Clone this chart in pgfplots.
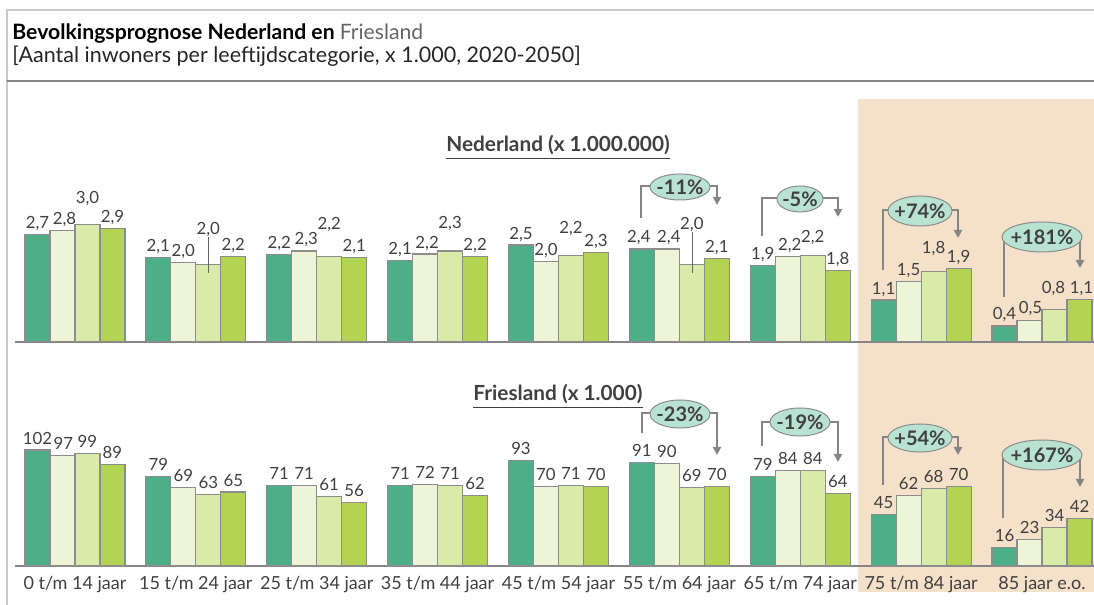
\documentclass[border=0pt]{standalone}
\usepackage{pgfplots}
\pgfplotsset{compat=1.18}
\usepackage{pgfplotstable}
\usepackage{fontspec}
\setmainfont{Lato}
\usetikzlibrary{arrows.meta,shapes.geometric}

\definecolor{cA}{HTML}{4DAF87}
\definecolor{cB}{HTML}{EEF4D8}
\definecolor{cC}{HTML}{D9EBA9}
\definecolor{cD}{HTML}{B2D452}
\definecolor{edge}{HTML}{8C8C8C}
\definecolor{peach}{HTML}{F5E1C9}
\definecolor{bubble}{HTML}{B8E2D2}
\definecolor{txt}{HTML}{404040}
\definecolor{axisgray}{HTML}{858585}
\definecolor{framegray}{HTML}{C8C8C8}

% Nederland (x 1.000.000)
\pgfplotstableread{
x y dy dx
0 2.73 0 0
1 2.14 0 0
2 2.22 0 0
3 2.06 0 0
4 2.46 0 0
5 2.36 0 -3
6 1.94 0 0
7 1.06 0 0
8 0.40 0 0
}\nlA
\pgfplotstableread{
x y dy dx
0 2.82 0 2
1 2.02 0 0
2 2.31 0 2
3 2.23 0 2
4 2.04 0 0
5 2.36 0 2
6 2.17 0 2
7 1.54 0 0
8 0.53 1.5 1
}\nlB
\pgfplotstableread{
x y dy dx
0 2.99 15 0
1 1.97 23.5 0
2 2.16 21 0
3 2.31 16 0
4 2.19 16.5 0
5 1.97 28.5 0
6 2.19 7 0
7 1.78 12 0
8 0.82 10 -1
}\nlC
\pgfplotstableread{
x y dy dx
0 2.89 0 0
1 2.16 0 0
2 2.14 0 0
3 2.16 0 0
4 2.26 0 0
5 2.11 0 0
6 1.82 0 0
7 1.86 0 0
8 1.08 0 2
}\nlD
% Friesland (x 1.000)
\pgfplotstableread{
x y dy dx
0 102 0 0
1 79 0 0
2 71 0 0
3 71 0 0
4 93 0 0
5 91 0 0
6 79 0 0
7 45 0 0
8 16 0 0
}\frA
\pgfplotstableread{
x y dy dx
0 97 0 1
1 69 0 0
2 71 0 0
3 72 0 0
4 70 0 0
5 90 0 0
6 84 0 0
7 62 0 0
8 23 0 0
}\frB
\pgfplotstableread{
x y dy dx
0 99 0 0
1 63 0 0
2 61 0 0
3 71 0 0
4 71 0 0
5 69 0 0
6 84 0 0
7 68 0 0
8 34 0 0
}\frC
\pgfplotstableread{
x y dy dx
0 89 0 0
1 65 0 0
2 56 0 0
3 62 0 0
4 70 0 0
5 70 0 0
6 64 0 0
7 70 0 0
8 42 0 0
}\frD

\pgfplotsset{barax/.style={
  scale only axis, width=539.5pt, xmin=-0.496, xmax=8.43, ymin=0,
  anchor=south west,
  ybar=0pt, bar width=12.5pt,
  axis x line*=bottom, axis y line=none,
  x axis line style={draw=axisgray,line width=1pt,-},
  ytick=\empty, xtick style={draw=none}, major tick length=0pt,
  clip=false, enlargelimits=false,
  nodes near coords,
  visualization depends on={\thisrow{dy} \as \dy},
  visualization depends on={\thisrow{dx} \as \dx},
  every node near coord/.append style={font=\fontsize{8.4pt}{10pt}\selectfont, text=txt, anchor=base, yshift=3pt+0.5pt*\dy, xshift=0.5pt*\dx, inner sep=0pt},
  /pgf/number format/assume math mode=true,
  /pgf/number format/use comma,
  every axis plot/.append style={draw=edge, line width=0.6pt},
}}

\newcommand\bubble[5]{% cx, cy, w(px), h(px), text
  \filldraw[fill=bubble, draw=edge, line width=0.5pt] (#1,#2) ellipse [x radius=#3*0.25pt, y radius=#4*0.25pt];
  \node[inner sep=0pt, font=\bfseries\fontsize{10pt}{11pt}\selectfont, text=txt] at (#1,#2) {#5};}

\begin{document}
\begin{tikzpicture}
\path[use as bounding box] (0,0) rectangle (547pt,302.5pt);
\begin{scope}[x=0.5pt,y=-0.5pt,shift={(0,302.5pt)}]
  \fill[peach] (858,99) rectangle (1094,592);
  \draw[framegray,line width=1pt] (7,605) -- (7,10) -- (1094,10);
  \draw[axisgray,line width=1pt] (7,81) -- (1094,81);
  \node[anchor=base west,inner sep=0pt,font=\fontsize{10.6pt}{12pt}\selectfont] at (12,40) {\textbf{Bevolkingsprognose Nederland en }\textcolor{txt!80}{Friesland}};
  \node[anchor=base west,inner sep=0pt,font=\fontsize{10.75pt}{12pt}\selectfont,text=black!85] at (12,63) {[Aantal inwoners per leeftijdscategorie, x 1.000, 2020-2050]};
  \node[anchor=base,inner sep=0pt,font=\bfseries\fontsize{10.4pt}{12pt}\selectfont,text=txt] at (558,152) {\underline{Nederland (x 1.000.000)}};
  \node[anchor=base,inner sep=0pt,font=\bfseries\fontsize{10.4pt}{12pt}\selectfont,text=txt] at (558,401) {\underline{Friesland (x 1.000)}};
\end{scope}

\begin{axis}[barax, at={(7.5pt,131.65pt)}, height=98.25pt, ymax=5, xtick=\empty,
  every node near coord/.append style={/pgf/number format/fixed,/pgf/number format/fixed zerofill,/pgf/number format/precision=1}]
  \addplot[fill=cA] table[x=x,y=y] {\nlA};
  \addplot[fill=cB] table[x=x,y=y] {\nlB};
  \addplot[fill=cC] table[x=x,y=y] {\nlC};
  \addplot[fill=cD] table[x=x,y=y] {\nlD};
\end{axis}

\begin{axis}[barax, at={(7.5pt,19.5pt)}, height=85.275pt, ymax=150,
  xtick={0,...,8},
  xticklabels={0 t/m 14 jaar,15 t/m 24 jaar,25 t/m 34 jaar,35 t/m 44 jaar,45 t/m 54 jaar,55 t/m 64 jaar,65 t/m 74 jaar,75 t/m 84 jaar,85 jaar e.o.},
  xticklabel style={font=\fontsize{9pt}{10pt}\selectfont, text=txt, anchor=base, yshift=-12pt, inner sep=0pt},
  every node near coord/.append style={/pgf/number format/fixed,/pgf/number format/precision=0}]
  \addplot[fill=cA] table[x=x,y=y] {\frA};
  \addplot[fill=cB] table[x=x,y=y] {\frB};
  \addplot[fill=cC] table[x=x,y=y] {\frC};
  \addplot[fill=cD] table[x=x,y=y] {\frD};
\end{axis}

\begin{scope}[x=0.5pt,y=-0.5pt,shift={(0,302.5pt)}]
  \tikzset{brk/.style={draw=axisgray, line width=1pt, -{Triangle[width=4pt,length=4pt]}}}
  \draw[txt!80,line width=0.4pt] (208,237) -- (208,273);
  \draw[txt!80,line width=0.4pt] (692,232) -- (692,273);
  % Nederland
  \draw[brk] (641,218) |- (717,186) -- (717,205);
  \bubble{680}{187}{60}{26}{-11\%}
  \draw[brk] (762,236) |- (838,198) -- (838,217);
  \bubble{800}{199}{46}{26}{-5\%}
  \draw[brk] (883,270) |- (958,210) -- (958,238);
  \bubble{920}{211}{64}{30}{+74\%}
  \draw[brk] (1004,297) |- (1080,237) -- (1080,268);
  \bubble{1042}{237}{80}{30}{+181\%}
  % Friesland
  \draw[brk] (642,433) |- (717,413) -- (717,455);
  \bubble{680}{414}{60}{28}{-23\%}
  \draw[brk] (762,446) |- (838,422) -- (838,462);
  \bubble{800}{422}{60}{28}{-19\%}
  \draw[brk] (883,485) |- (958,437) -- (958,455);
  \bubble{920}{438}{64}{28}{+54\%}
  \draw[brk] (1003,518) |- (1080,455) -- (1080,487);
  \bubble{1042}{455}{80}{30}{+167\%}
\end{scope}
\end{tikzpicture}
\end{document}
